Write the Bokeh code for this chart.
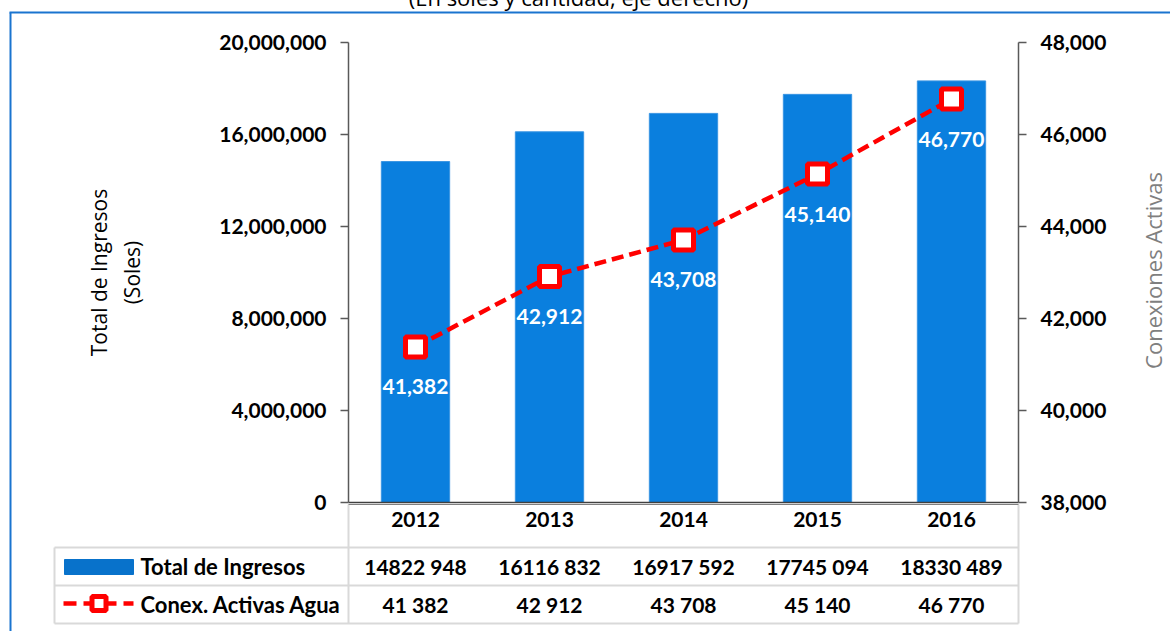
import math
from bokeh.plotting import figure
from bokeh.models import Range1d, LinearAxis, FixedTicker, NumeralTickFormatter
from bokeh.core.properties import value
from bokeh.embed import file_html
from bokeh.resources import INLINE

# ---------------- data ----------------
years = ["2012", "2013", "2014", "2015", "2016"]
ingresos = [14822948, 16116832, 16917592, 17745094, 18330489]
conexiones = [41382, 42912, 43708, 45140, 46770]
left_ticks = [0, 4000000, 8000000, 12000000, 16000000, 20000000]
right_ticks = [38000, 40000, 42000, 44000, 46000, 48000]
row_names = ["Total de Ingresos", "Conex. Activas Agua"]
title_text = "(En soles y cantidad, eje derecho)"
left_label = "Total de Ingresos\n(Soles)"
right_label = "Conexiones Activas"

# ---------------- layout helpers (page px -> data) ----------------
W, H = 1170, 631
FL, FR, FT, FB = 348, 1018, 42, 502          # frame edges in canvas px
XMAX = len(years)
YMAX = 20000000


def X(px):
    return (px - FL) * XMAX / (FR - FL)


def Y(py):
    return (FB - py) * YMAX / (FB - FT)


xs = [i + 0.5 for i in range(len(years))]

p = figure(width=W, height=H, output_backend="svg", toolbar_location=None,
           x_range=Range1d(0, XMAX), y_range=Range1d(0, YMAX),
           min_border_left=FL, min_border_right=W - FR,
           min_border_top=FT, min_border_bottom=H - FB,
           x_axis_location=None, y_axis_location=None)
p.outline_line_color = None
p.grid.visible = False
p.background_fill_color = "white"
p.border_fill_color = "white"

NUM = dict(text_font=value("Lato"), text_font_style="bold", text_font_size="21px")
WORD = dict(text_font=value("Lato"), text_font_style="bold", text_font_size="22px")
REG = dict(text_font=value("Open Sans"), text_font_style="normal", text_font_size="22px")

# left axis
yax = LinearAxis(ticker=FixedTicker(ticks=left_ticks),
                 formatter=NumeralTickFormatter(format="0,0"),
                 axis_label=left_label,
                 axis_label_standoff=70,
                 axis_label_text_font="Open Sans", axis_label_text_font_style="normal",
                 axis_label_text_font_size="21px", axis_label_text_color="black",
                 major_label_text_font="Lato", major_label_text_font_style="bold",
                 major_label_text_font_size="21px", major_label_text_color="black",
                 major_label_standoff=14,
                 axis_line_color="#595959", axis_line_width=1.5,
                 major_tick_line_color="#595959", major_tick_line_width=1.5,
                 major_tick_out=8, major_tick_in=0, minor_tick_out=0, minor_tick_in=0)
p.add_layout(yax, "left")

# right axis
p.extra_y_ranges = {"con": Range1d(38000, 48000)}
rax = LinearAxis(y_range_name="con", ticker=FixedTicker(ticks=right_ticks),
                 formatter=NumeralTickFormatter(format="0,0"),
                 major_label_text_font="Lato", major_label_text_font_style="bold",
                 major_label_text_font_size="21px", major_label_text_color="black",
                 major_label_standoff=14,
                 axis_line_color="#595959", axis_line_width=1.5,
                 major_tick_line_color="#595959", major_tick_line_width=1.5,
                 major_tick_out=8, major_tick_in=0, minor_tick_out=0, minor_tick_in=0)
p.add_layout(rax, "right")
p.text([X(1152)], [Y(270)], text=[right_label], angle=math.pi / 2,
       text_align="center", text_baseline="middle", text_color="#7F7F7F",
       level="overlay", **REG)

# bottom axis with the years (table header)
xax = LinearAxis(ticker=FixedTicker(ticks=xs),
                 major_label_overrides={x: y for x, y in zip(xs, years)},
                 major_label_text_font="Lato", major_label_text_font_style="bold",
                 major_label_text_font_size="21px", major_label_text_color="black",
                 major_label_standoff=9,
                 axis_line_color="#404040", axis_line_width=1.5,
                 major_tick_out=0, major_tick_in=0, minor_tick_out=0, minor_tick_in=0)
p.add_layout(xax, "below")

# bars
p.vbar(x=xs, top=ingresos, bottom=0, width=0.51, fill_color="#0A7FDE",
       line_color="#3A95E2", line_width=1)

# line + markers (right axis)
p.line(xs, conexiones, y_range_name="con", line_color="#FF0000", line_width=4.5,
       line_dash="12 6")
p.scatter(xs, conexiones, y_range_name="con", marker="square", size=20,
          line_color="#FF0000", line_width=5, fill_color="white")
p.text(xs, conexiones, text=["{:,}".format(v) for v in conexiones],
       y_range_name="con", y_offset=40, text_align="center", text_baseline="middle",
       text_color="white", **NUM)

# ---------------- data table under the chart ----------------
grid = "#D9D9D9"
p.segment(x0=[X(54), X(54), X(54), X(54), X(348), X(1018)],
          y0=[Y(547), Y(585), Y(623), Y(547), Y(504), Y(504)],
          x1=[X(1018), X(1018), X(1018), X(54), X(348), X(1018)],
          y1=[Y(547), Y(585), Y(623), Y(623), Y(623), Y(623)],
          line_color=grid, line_width=2, level="overlay")
p.segment(x0=[X(348)], y0=[Y(504)], x1=[X(1018)], y1=[Y(504)],
          line_color="#808080", line_width=1, level="overlay")

row1 = ["{} {:03d}".format(v // 1000, v % 1000) for v in ingresos]
row2 = ["{} {:03d}".format(v // 1000, v % 1000) for v in conexiones]
p.text(xs, [Y(566)] * len(xs), text=row1, text_align="center", text_baseline="middle",
       text_color="black", level="overlay", **NUM)
p.text(xs, [Y(604)] * len(xs), text=row2, text_align="center", text_baseline="middle",
       text_color="black", level="overlay", **NUM)
p.text([X(140), X(140)], [Y(566), Y(604)], text=row_names, text_align="left",
       text_baseline="middle", text_color="black", level="overlay", **WORD)

# legend keys
p.quad(left=[X(64)], right=[X(133)], bottom=[Y(574)], top=[Y(559)],
       fill_color="#0872CB", line_color="#0872CB", level="overlay")
p.segment(x0=[X(63)], y0=[Y(603)], x1=[X(133)], y1=[Y(603)], line_color="#FF0000",
          line_width=4.5, line_dash="13 7", level="overlay")
p.quad(left=[X(91.5)], right=[X(105.5)], bottom=[Y(610)], top=[Y(596)],
       fill_color="white", line_color="#FF0000", line_width=5, level="overlay")

# partially visible title at the very top (cut off by the page edge, as in the original)
p.text([X(578)], [Y(-4)], text=[title_text], text_align="center",
       text_baseline="alphabetic", text_color="black", level="overlay", **REG)

# outer blue frame of the figure
p.segment(x0=[X(10), X(9)], y0=[Y(12), Y(12)], x1=[X(10), X(1172)], y1=[Y(640), Y(12)],
          line_color="#1A74CF", line_width=2, level="overlay")

open("out.html", "w").write(file_html(p, INLINE))
